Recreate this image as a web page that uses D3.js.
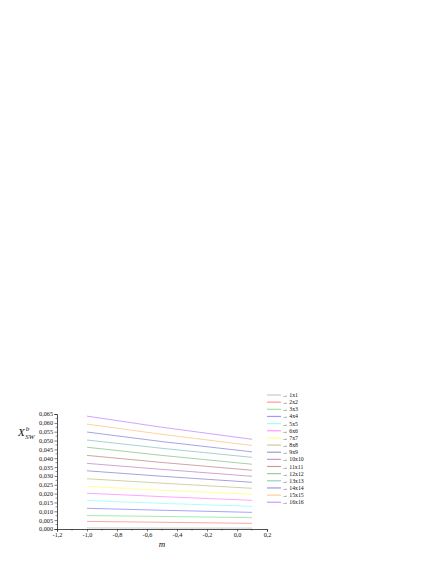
<!DOCTYPE html>
<html>
<head>
<meta charset="utf-8">
<script src="https://cdn.jsdelivr.net/npm/d3@7"></script>
<style>
  body { margin: 0; background: #fff; }
  svg { display: block; }
  svg text { font-family: "Liberation Serif", "DejaVu Serif", serif; }
</style>
</head>
<body>
<div id="chart"></div>
<script>
var width = 436;
var height = 564;

// m values where each curve was read (start, middle, end)
var mValues = [-1.0, -0.5, 0.1];

var seriesNames = ["1x1", "2x2", "3x3", "4x4", "5x5", "6x6", "7x7", "8x8",
                   "9x9", "10x10", "11x11", "12x12", "13x13", "14x14", "15x15", "16x16"];

var seriesValues = [
  [0.0006, 0.0005, 0.0005],
  [0.0043, 0.0038, 0.0032],
  [0.0076, 0.0071, 0.0064],
  [0.0117, 0.0106, 0.0094],
  [0.0161, 0.0145, 0.0128],
  [0.0202, 0.0183, 0.0162],
  [0.0241, 0.0219, 0.0196],
  [0.0284, 0.0259, 0.0230],
  [0.0329, 0.0298, 0.0264],
  [0.0371, 0.0337, 0.0298],
  [0.0416, 0.0376, 0.0332],
  [0.0462, 0.0416, 0.0366],
  [0.0503, 0.0456, 0.0405],
  [0.0548, 0.0494, 0.0436],
  [0.0593, 0.0535, 0.0472],
  [0.0638, 0.0575, 0.0507]
];

var seriesColors = ["#c8c8c8", "#ff9a9a", "#9ee89e", "#9a9aff", "#a0ffff", "#ff9cff",
                    "#ffff8c", "#cccc99", "#9a9ad8", "#cc9acc", "#cc9a9a", "#9acc9a",
                    "#9acccc", "#9a9ae6", "#ffcc99", "#cc9aff"];

var xTicks = [-1.2, -1.0, -0.8, -0.6, -0.4, -0.2, 0.0, 0.2];
var yTicks = [0, 0.005, 0.01, 0.015, 0.02, 0.025, 0.03, 0.035, 0.04, 0.045, 0.05, 0.055, 0.06, 0.065];

var svg = d3.select("#chart")
    .append("svg")
    .attr("width", width)
    .attr("height", height);

var x = d3.scaleLinear().domain([-1.2, 0.2]).range([57, 267]);
var y = d3.scaleLinear().domain([0, 0.065]).range([529, 414]);

var fmt = function(d, n) { return d3.format("." + n + "f")(d).replace(".", ",").replace("\u2212", "-"); };

// x axis
var xAxis = svg.append("g")
    .attr("transform", "translate(0," + y(0) + ")")
    .call(d3.axisBottom(x).tickValues(xTicks).tickSize(2.5).tickPadding(1.5)
      .tickFormat(function(d) { return fmt(d, 1); }));
xAxis.attr("font-family", null);
xAxis.select(".domain").attr("stroke", "#222").attr("stroke-width", 0.8);
xAxis.selectAll(".tick line").attr("stroke", "#222").attr("stroke-width", 0.6);
xAxis.selectAll("text").attr("font-size", 6.2).attr("fill", "#111");

var xMinor = d3.range(-1.1, 0.2, 0.2);
svg.append("g").selectAll("line")
    .data(xMinor)
    .enter().append("line")
      .attr("x1", function(d) { return x(d); })
      .attr("x2", function(d) { return x(d); })
      .attr("y1", y(0))
      .attr("y2", y(0) + 1.5)
      .attr("stroke", "#222")
      .attr("stroke-width", 0.5);

// y axis
var yAxis = svg.append("g")
    .attr("transform", "translate(" + x(-1.2) + ",0)")
    .call(d3.axisLeft(y).tickValues(yTicks).tickSize(2.5).tickPadding(1.5)
      .tickFormat(function(d) { return fmt(d, 3); }));
yAxis.attr("font-family", null);
yAxis.select(".domain").attr("stroke", "#222").attr("stroke-width", 0.8);
yAxis.selectAll(".tick line").attr("stroke", "#222").attr("stroke-width", 0.6);
yAxis.selectAll("text").attr("font-size", 6.2).attr("fill", "#111");

var yMinor = d3.range(0.0025, 0.066, 0.005);
svg.append("g").selectAll("line")
    .data(yMinor)
    .enter().append("line")
      .attr("x1", x(-1.2) - 1.5)
      .attr("x2", x(-1.2))
      .attr("y1", function(d) { return y(d); })
      .attr("y2", function(d) { return y(d); })
      .attr("stroke", "#222")
      .attr("stroke-width", 0.5);

// axis titles
svg.append("text")
    .attr("x", x(-0.5))
    .attr("y", 547)
    .attr("text-anchor", "middle")
    .attr("font-size", 9)
    .attr("font-style", "italic")
    .attr("fill", "#111")
    .text("m");

var ylab = svg.append("text")
    .attr("x", 18)
    .attr("y", 436)
    .attr("font-size", 11)
    .attr("font-style", "italic")
    .attr("fill", "#111");
ylab.append("tspan").text("X");
ylab.append("tspan").attr("font-size", 7).attr("dy", -5).attr("dx", 1).text("b");
ylab.append("tspan").attr("font-size", 7).attr("dy", 8).attr("dx", -4).text("SW");

// lines
var line = d3.line()
    .x(function(d, i) { return x(mValues[i]); })
    .y(function(d) { return y(d); });

svg.append("g").selectAll("path")
    .data(seriesValues)
    .enter().append("path")
      .attr("d", line)
      .attr("fill", "none")
      .attr("stroke", function(d, i) { return seriesColors[i]; })
      .attr("stroke-width", 0.9);

// legend
var legend = svg.append("g").selectAll("g")
    .data(seriesNames)
    .enter().append("g")
      .attr("transform", function(d, i) { return "translate(267," + (395 + i * 7.15) + ")"; });

legend.append("line")
    .attr("x1", 0)
    .attr("x2", 14)
    .attr("stroke", function(d, i) { return seriesColors[i]; })
    .attr("stroke-width", 1.2);

legend.append("text")
    .attr("x", 15)
    .attr("y", 2)
    .attr("font-size", 5.8)
    .attr("fill", "#111")
    .text(function(d) { return "\u2192 " + d; });
</script>
</body>
</html>
